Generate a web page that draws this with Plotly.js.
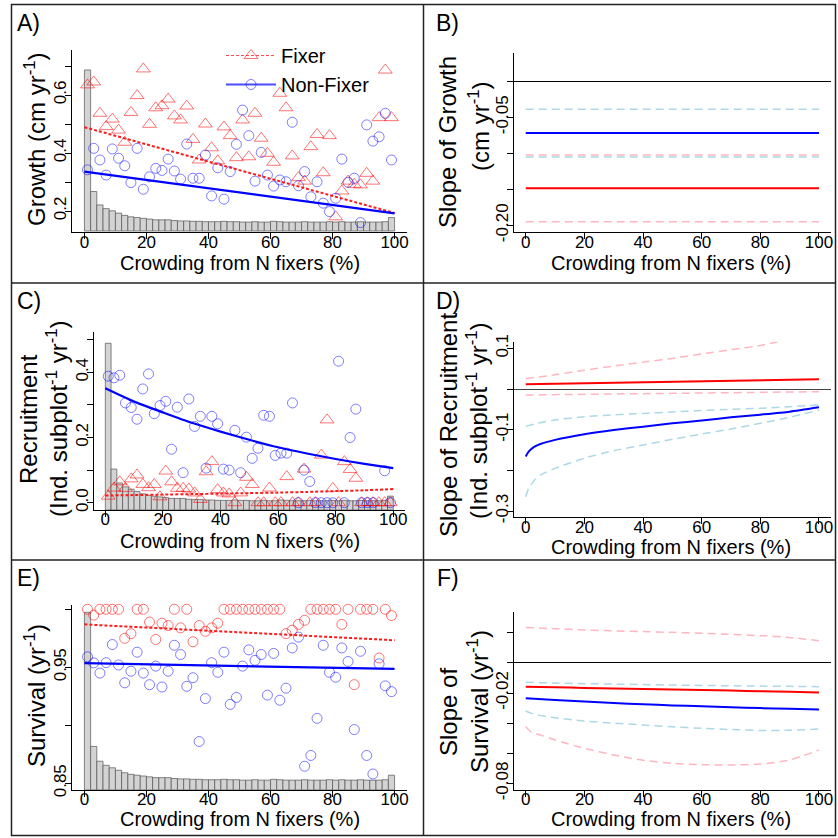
<!DOCTYPE html>
<html><head><meta charset="utf-8">
<script src="https://cdn.plot.ly/plotly-3.0.1.min.js"></script>
<style>html,body{margin:0;padding:0;background:#fff}</style>
</head><body><div id="chart" style="width:838px;height:838px"></div>
<script>
// ---------- DATA ----------
const crowdMid = [1,3,5,7,9,11,13,15,17,19,21,23,25,27,29,31,33,35,37,39,41,43,45,47,49,51,53,55,57,59,61,63,65,67,69,71,73,75,77,79,81,83,85,87,89,91,93,95,97,99];
const crowdHist = [21.6,5.3,3.5,3.0,2.7,2.4,2.1,1.9,1.8,1.7,1.6,1.5,1.5,1.5,1.4,1.35,1.35,1.3,1.3,1.25,1.25,1.25,1.3,1.25,1.25,1.2,1.2,1.25,1.2,1.2,1.3,1.25,1.2,1.2,1.2,1.25,1.2,1.2,1.2,1.25,1.2,1.25,1.2,1.2,1.25,1.2,1.2,1.2,1.25,1.8];
const crowdTicks = [0,20,40,60,80,100];
const crowdTickText = ['0','20','40','60','80','100'];

const growthFixer = [0.635,0.645,0.537,0.491,0.517,0.479,0.437,0.54,0.598,0.69,0.499,0.556,0.563,0.586,0.528,0.514,0.562,0.447,0.376,0.5,0.418,0.373,0.49,0.46,0.384,0.514,0.387,0.537,0.451,0.399,0.368,0.606,0.556,0.39,0.315,0.303,0.422,0.464,0.332,0.46,0.18,0.269,0.303,0.292,0.29,0.33,0.303,0.522,0.686,0.522];
const growthNonFixer = [0.342,0.416,0.376,0.324,0.414,0.382,0.356,0.298,0.416,0.275,0.318,0.347,0.34,0.379,0.338,0.31,0.431,0.313,0.313,0.393,0.252,0.349,0.241,0.336,0.43,0.548,0.46,0.303,0.402,0.324,0.286,0.307,0.301,0.506,0.287,0.336,0.249,0.301,0.227,0.198,0.244,0.379,0.299,0.313,0.16,0.497,0.441,0.456,0.537,0.376];
const growthFitX = [0,100];
const growthFitFixer = [0.489,0.193];
const growthFitNonFixer = [0.336,0.192];

const recruitFixer = [0.02,0.045,0.064,0.044,0.073,0.085,0.056,0.046,0.056,0.018,0.097,0.064,0.044,0.044,0.042,0.03,0.01,0.095,0.126,0.04,0.03,0.027,0.0,0.03,0.078,0.056,0.0,0.0,0.045,0.0,0.0,0.08,0.0,0.0,0.103,0.0,0.0,0.146,0.254,0.044,0.0,0.126,0.102,0.075,0.0,0.0,0.0,0.0,0.0,0.0];
const recruitNonFixer = [0.388,0.383,0.391,0.306,0.292,0.256,0.349,0.395,0.273,0.298,0.311,0.164,0.293,0.092,0.318,0.234,0.265,0.106,0.265,0.242,0.103,0.1,0.222,0.092,0.201,0.136,0.167,0.268,0.265,0.145,0.152,0.152,0.306,0.0,0.1,0.065,0.0,0.0,0.0,0.0,0.434,0.0,0.2,0.287,0.0,0.0,0.0,null,0.098,0.0];
const recruitFitX = [0,10,20,30,40,50,60,70,80,90,100];
const recruitFitFixer = [0.022,0.0234,0.0248,0.0263,0.0278,0.0294,0.031,0.033,0.0355,0.038,0.042];
const recruitFitNonFixer = [0.351,0.31,0.277,0.245,0.218,0.193,0.170,0.151,0.134,0.119,0.106];

const survivalFixer = [1.0,0.995,1.0,1.0,1.0,1.0,0.975,0.979,1.0,1.0,0.989,0.974,0.988,0.986,1.0,0.984,1.0,0.972,0.986,0.981,0.984,0.988,1.0,1.0,1.0,1.0,1.0,1.0,1.0,1.0,1.0,1.0,0.979,0.982,0.987,0.9905,1.0,1.0,1.0,1.0,1.0,0.987,1.0,0.935,1.0,1.0,1.0,0.958,1.0,0.9946];
const survivalNonFixer = [0.959,0.9538,0.945,0.954,0.9696,0.952,0.9366,0.9466,0.963,0.945,0.935,0.951,0.933,0.9466,0.969,0.961,0.9336,0.941,0.886,0.923,0.954,0.9457,0.963,0.918,0.924,0.951,0.965,0.956,0.961,0.926,0.962,0.9216,0.932,0.9667,0.976,0.8647,0.874,0.906,0.969,0.9457,0.9414,0.9667,0.955,0.8963,0.9638,0.874,0.858,0.953,0.934,0.929];
const survivalFitX = [0,100];
const survivalFitFixer = [0.987,0.9733];
const survivalFitNonFixer = [0.9536,0.9486];

// slope panels
const slopeGrowthX = [0,100];
const slopeGrowthFixer = [-0.1486,-0.1486];
const slopeGrowthFixerLo = [-0.195,-0.195];
const slopeGrowthFixerHi = [-0.1024,-0.1024];
const slopeGrowthNon = [-0.0718,-0.0718];
const slopeGrowthNonLo = [-0.1051,-0.1051];
const slopeGrowthNonHi = [-0.0389,-0.0389];

const slopeRecX = [0,1,3,5,10,20,30,40,50,60,70,80,90,100];
const slopeRecNon = [-0.166,-0.154,-0.1417,-0.135,-0.125,-0.111,-0.1007,-0.0925,-0.0844,-0.0775,-0.0696,-0.063,-0.0557,-0.045];
const slopeRecNonHi = [-0.0925,-0.090,-0.086,-0.0827,-0.076,-0.068,-0.0635,-0.060,-0.0565,-0.053,-0.050,-0.0475,-0.0435,-0.039];
const slopeRecNonLo = [-0.2645,-0.244,-0.2236,-0.2113,-0.195,-0.170,-0.1515,-0.1376,-0.1237,-0.1106,-0.0983,-0.0844,-0.0696,-0.0516];
const slopeRecFixX = [0,100];
const slopeRecFix = [0.0115,0.0238];
const slopeRecFixLo = [-0.0147,-0.0066];
const slopeRecFixHiX = [0,10,20,30,40,50,60,70,80,86];
const slopeRecFixHi = [0.0254,0.035,0.046,0.0565,0.066,0.075,0.086,0.0966,0.107,0.116];

const slopeSurvX = [0,10,20,30,40,50,60,70,80,90,100];
const slopeSurvFix = [-0.0158,-0.0162,-0.0166,-0.017,-0.0173,-0.0176,-0.018,-0.0184,-0.0188,-0.0192,-0.0196];
const slopeSurvFixHi = [0.0235,0.0226,0.0218,0.0212,0.0207,0.0202,0.0196,0.0189,0.018,0.0168,0.0147];
const slopeSurvNon = [-0.0235,-0.0247,-0.0257,-0.0267,-0.0275,-0.0282,-0.0288,-0.0294,-0.030,-0.0305,-0.031];
const slopeSurvNonHi = [-0.0129,-0.0134,-0.0138,-0.0141,-0.0144,-0.0147,-0.015,-0.0152,-0.0154,-0.0156,-0.0158];
const slopeSurvLoX = [0,2,5,10,20,30,40,50,60,70,80,90,100];
const slopeSurvNonLo = [-0.0319,-0.0335,-0.035,-0.0364,-0.0386,-0.040,-0.0412,-0.0424,-0.0434,-0.0442,-0.0448,-0.0447,-0.0439];
const slopeSurvFixLo = [-0.0423,-0.046,-0.0478,-0.0511,-0.0567,-0.0611,-0.0646,-0.0666,-0.0675,-0.0677,-0.0671,-0.0644,-0.0578];

// ---------- STYLE ----------
const FONT = '"Liberation Sans", Arial, Helvetica, sans-serif';
const W = 838;
const RED_PT = 'rgba(255,0,0,0.55)';
const BLUE_PT = 'rgba(0,0,255,0.5)';
const RED = '#ff1a1a';
const BLUE = '#0000ff';
const PINK = '#ffb6c1';
const LBLUE = '#add8e6';
const xd = (a,b)=>[a/W,b/W];
const yd = (top,bot)=>[1-bot/W,1-top/W];

const axStyle = {showgrid:false, zeroline:false, showline:true, linecolor:'#000', linewidth:1,
  ticks:'outside', ticklen:6, tickwidth:1, tickcolor:'#000',
  tickfont:{family:FONT,size:17,color:'#000'}, fixedrange:true};

function xAx(dom, anchor){
  return Object.assign({}, axStyle, {domain:dom, anchor:anchor, range:[-4,104],
    tickmode:'array', tickvals:crowdTicks, ticktext:crowdTickText, ticklabelstandoff:-12});
}
function yAx(extra){
  return Object.assign({}, axStyle, {tickangle:-90, tickmode:'array', ticklabelstandoff:-8}, extra);
}

const traces = [];
function hist(xa, ya){
  traces.push({type:'bar', x:crowdMid, y:crowdHist, width:2, xaxis:xa, yaxis:ya,
    marker:{color:'#d3d3d3', line:{color:'#555', width:0.7}}, showlegend:false, hoverinfo:'skip'});
}
function pts(xa, ya, y, fixer){
  traces.push({type:'scatter', mode:'markers', x:crowdMid, y:y, xaxis:xa, yaxis:ya, showlegend:false, cliponaxis:false,
    marker: fixer==='tri' ? {symbol:'triangle-up-open', size:12, color:RED_PT, line:{width:1}}
          : fixer==='redc' ? {symbol:'circle-open', size:10, color:RED_PT, line:{width:1}}
          : {symbol:'circle-open', size:10, color:BLUE_PT, line:{width:1}}});
}
function line(xa, ya, x, y, color, width, dash, shape){
  traces.push({type:'scatter', mode:'lines', x:x, y:y, xaxis:xa, yaxis:ya, showlegend:false, hoverinfo:'skip',
    line:{color:color, width:width, dash:dash||'solid', shape:shape||'linear', smoothing:0.6}});
}

// Panel A
hist('x','y');
pts('x','y2',growthFixer,'tri');
pts('x','y2',growthNonFixer,'blue');
line('x','y2',growthFitX,growthFitFixer,RED,2,'3px,2px');
line('x','y2',growthFitX,growthFitNonFixer,BLUE,2.2);
// legend entries
traces.push({type:'scatter', mode:'lines+markers', name:'Fixer', x:[null], y:[null], xaxis:'x', yaxis:'y2',
  line:{color:'rgba(255,0,0,0.7)', width:1, dash:'3px,2px'}, marker:{symbol:'triangle-up-open', size:12, color:RED_PT, line:{width:1}}});
traces.push({type:'scatter', mode:'lines+markers', name:'Non-Fixer', x:[null], y:[null], xaxis:'x', yaxis:'y2',
  line:{color:'rgba(0,0,255,0.7)', width:2}, marker:{symbol:'circle-open', size:10, color:BLUE_PT, line:{width:1}}});

// Panel C
hist('x2','y3');
pts('x2','y4',recruitFixer,'tri');
pts('x2','y4',recruitNonFixer,'blue');
line('x2','y4',recruitFitX,recruitFitFixer,RED,2,'3px,2px','spline');
line('x2','y4',recruitFitX,recruitFitNonFixer,BLUE,2.2,'solid','spline');

// Panel E
hist('x3','y5');
pts('x3','y6',survivalFixer,'redc');
pts('x3','y6',survivalNonFixer,'blue');
line('x3','y6',survivalFitX,survivalFitFixer,RED,2,'3px,2px');
line('x3','y6',survivalFitX,survivalFitNonFixer,BLUE,2.2);

// Panel B
const DASH = '8px,5px';
line('x4','y7',slopeGrowthX,slopeGrowthNonHi,LBLUE,1.5,DASH);
line('x4','y7',slopeGrowthX,slopeGrowthFixerHi,PINK,1.5,DASH);
line('x4','y7',slopeGrowthX,slopeGrowthNonLo,LBLUE,1.5,DASH);
line('x4','y7',slopeGrowthX,slopeGrowthFixerLo,PINK,1.5,DASH);
line('x4','y7',slopeGrowthX,slopeGrowthNon,BLUE,2);
line('x4','y7',slopeGrowthX,slopeGrowthFixer,'#ff0000',2);

// Panel D
line('x5','y8',slopeRecFixHiX,slopeRecFixHi,PINK,1.5,DASH,'spline');
line('x5','y8',slopeRecFixX,slopeRecFixLo,PINK,1.5,DASH);
line('x5','y8',slopeRecX,slopeRecNonHi,LBLUE,1.5,DASH,'spline');
line('x5','y8',slopeRecX,slopeRecNonLo,LBLUE,1.5,DASH,'spline');
line('x5','y8',slopeRecFixX,slopeRecFix,'#ff0000',2);
line('x5','y8',slopeRecX,slopeRecNon,BLUE,2,'solid','spline');

// Panel F
line('x6','y9',slopeSurvX,slopeSurvFixHi,PINK,1.5,DASH,'spline');
line('x6','y9',slopeSurvLoX,slopeSurvFixLo,PINK,1.5,DASH,'spline');
line('x6','y9',slopeSurvX,slopeSurvNonHi,LBLUE,1.5,DASH,'spline');
line('x6','y9',slopeSurvLoX,slopeSurvNonLo,LBLUE,1.5,DASH,'spline');
line('x6','y9',slopeSurvX,slopeSurvFix,'#ff0000',2,'solid','spline');
line('x6','y9',slopeSurvX,slopeSurvNon,BLUE,2,'solid','spline');

// ---------- LAYOUT ----------
const XL = xd(72,407), XC = xd(93.8,404.8), XR = xd(514,830.7);
const layout = {
  width:838, height:838, margin:{l:0,r:0,t:0,b:0},
  paper_bgcolor:'#fff', plot_bgcolor:'rgba(0,0,0,0)',
  font:{family:FONT, color:'#000'}, barmode:'overlay', showlegend:true,
  legend:{x:221/W, y:1-36/W, xanchor:'left', yanchor:'top', bgcolor:'rgba(0,0,0,0)', borderwidth:0,
    font:{family:FONT,size:20,color:'#000'}, itemwidth:50, tracegroupgap:0},
  xaxis: xAx(XL,'y'),
  yaxis: {domain:yd(50,232.3), range:[-0.174,24.28], visible:false, fixedrange:true},
  yaxis2: yAx({overlaying:'y', anchor:'x', side:'left', range:[0.1266,0.7552],
    tickvals:[0.2,0.3,0.4,0.5,0.6,0.7], ticktext:['0.2','','0.4','','0.6','']}),
  xaxis2: xAx(XC,'y3'),
  yaxis3: {domain:yd(331.7,510), range:[0,23.1], visible:false, fixedrange:true},
  yaxis4: yAx({overlaying:'y3', anchor:'x2', side:'left', range:[-0.0224,0.5245],
    tickvals:[0,0.1,0.2,0.3,0.4,0.5], ticktext:['0.0','','0.2','','0.4','']}),
  xaxis3: xAx(XL,'y5'),
  yaxis5: {domain:yd(605,790), range:[0,22.49], visible:false, fixedrange:true},
  yaxis6: yAx({overlaying:'y5', anchor:'x3', side:'left', range:[0.8442,1.0037],
    tickvals:[0.85,0.9,0.95,1.0], ticktext:['0.85','','0.95','']}),
  xaxis4: xAx(XR,'y7'),
  yaxis7: yAx({domain:yd(53,232.3), anchor:'x4', range:[-0.2097,0.0393],
    tickvals:[0,-0.05,-0.1,-0.15,-0.2], ticktext:['','-0.05','','','-0.20'],
    zeroline:true, zerolinecolor:'#000', zerolinewidth:1}),
  xaxis5: xAx(XR,'y8'),
  yaxis8: yAx({domain:yd(341.7,517.3), anchor:'x5', range:[-0.3152,0.1162],
    tickvals:[0.1,0,-0.1,-0.2,-0.3], ticktext:['0.1','','-0.1','','-0.3'],
    zeroline:true, zerolinecolor:'#444', zerolinewidth:1}),
  xaxis6: xAx(XR,'y9'),
  yaxis9: yAx({domain:yd(611.7,790), anchor:'x6', range:[-0.0843,0.0339],
    tickvals:[0.02,0,-0.02,-0.04,-0.06,-0.08], ticktext:['','','-0.02','','','-0.08'],
    zeroline:true, zerolinecolor:'#000', zerolinewidth:1}),
  shapes:[
    {type:'rect', xref:'paper', yref:'paper', x0:11.5/W, x1:835.5/W, y0:1-835.5/W, y1:1-4.5/W, line:{color:'#222', width:1.5}},
    {type:'line', xref:'paper', yref:'paper', x0:423.5/W, x1:423.5/W, y0:1-835.5/W, y1:1-4.5/W, line:{color:'#222', width:1.5}},
    {type:'line', xref:'paper', yref:'paper', x0:11.5/W, x1:835.5/W, y0:1-283/W, y1:1-283/W, line:{color:'#222', width:1.5}},
    {type:'line', xref:'paper', yref:'paper', x0:11.5/W, x1:835.5/W, y0:1-560/W, y1:1-560/W, line:{color:'#222', width:1.5}}
  ],
  annotations:[]
};
function ann(text, x, y, size, angle, xanchor){
  layout.annotations.push({text:text, xref:'paper', yref:'paper', x:x/W, y:1-y/W, showarrow:false,
    xanchor:xanchor||'center', yanchor:'middle', textangle:angle||0, font:{family:FONT, size:size, color:'#000'}});
}
// panel labels
ann('A)',15,23,23,0,'left'); ann('B)',434,23,23,0,'left');
ann('C)',15,301,23,0,'left'); ann('D)',434,301,23,0,'left');
ann('E)',15,578,23,0,'left'); ann('F)',435,578,23,0,'left');
// x titles
const XT = 'Crowding from N fixers (%)';
ann(XT,240,263,20); ann(XT,671,263,20);
ann(XT,240,541,20); ann(XT,671,547,20);
ann(XT,240,819,20); ann(XT,671,819,20);
// y titles
ann('Growth (cm yr<sup>-1</sup>)',35,139,24,-90);
ann('Slope of Growth',448,142,24,-90);
ann('(cm yr<sup>-1</sup>)',479,126,24,-90);
ann('Recruitment',28,419,24,-90);
ann('(Ind. subplot<sup>-1</sup> yr<sup>-1</sup>)',57,419,24,-90);
ann('Slope of Recruitment',448,425,24,-90);
ann('(Ind. subplot<sup>-1</sup> yr<sup>-1</sup>)',477,421,24,-90);
ann('Survival (yr<sup>-1</sup>)',35,696,24,-90);
ann('Slope of',448,712,24,-90);
ann('Survival (yr<sup>-1</sup>)',478,701,24,-90);

Plotly.newPlot('chart', traces, layout, {staticPlot:true, displayModeBar:false});
</script>
</body></html>
